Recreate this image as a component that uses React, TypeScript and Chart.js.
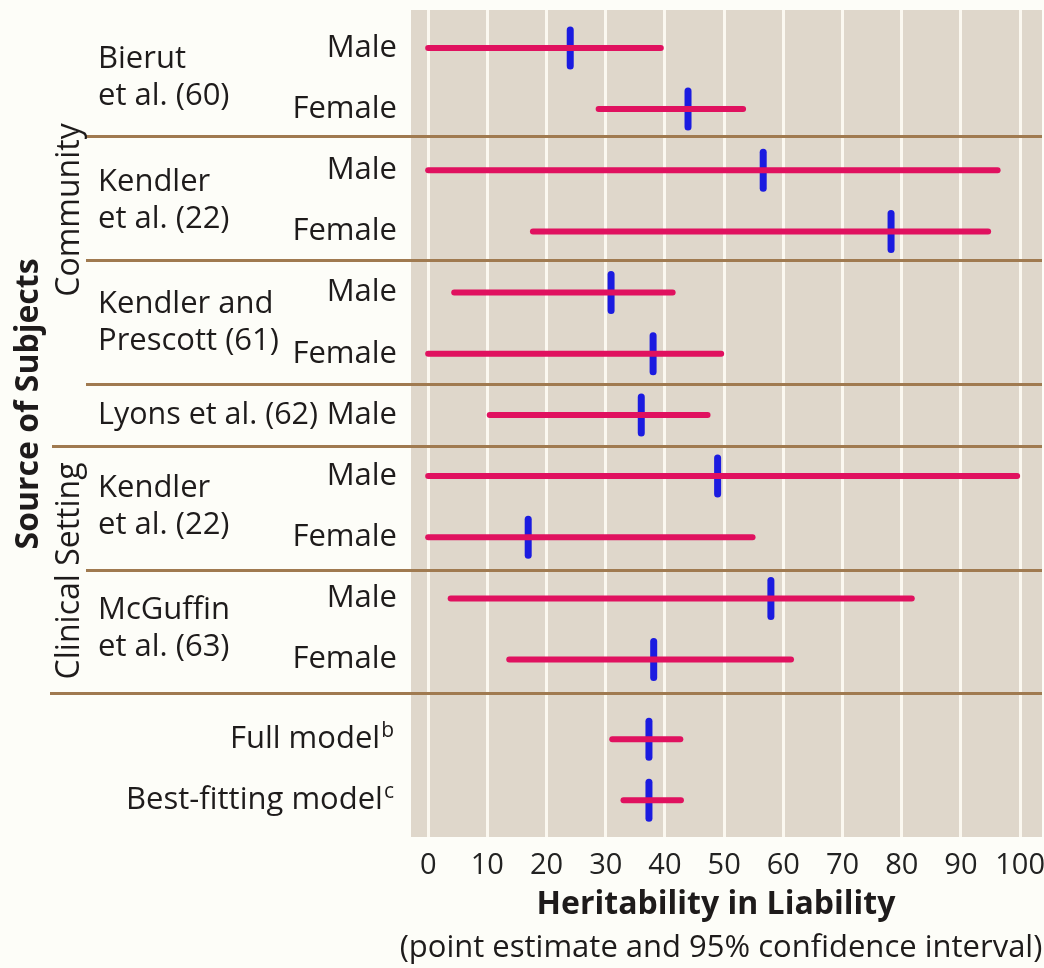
import React, { useEffect, useRef } from "react";
import { Chart, registerables } from "chart.js";

Chart.register(...registerables);

// ---- data ----
const sexLabels = ["Male", "Female", "Male", "Female", "Male", "Female", "Male", "Male", "Female", "Male", "Female"];
const modelLabels = ["Full model", "Best-fitting model"];
const modelSuperscripts = ["b", "c"];
const rowPositions = [0, 1, 2, 3, 4, 5, 6, 7, 8, 9, 10, 11.3, 12.3];
const lowerBounds = [0, 28.8, 0, 17.7, 4.4, 0, 10.4, 0, 0, 3.8, 13.7, 31.1, 33];
const upperBounds = [39.3, 53.2, 96.2, 94.6, 41.3, 49.5, 47.2, 99.5, 54.8, 81.7, 61.3, 42.6, 42.7];
const pointEstimates = [24, 43.9, 56.6, 78.2, 30.9, 38, 36, 48.9, 16.9, 57.9, 38.1, 37.3, 37.3];

const studyNames = [
  ["Bierut", "et al. (60)"],
  ["Kendler", "et al. (22)"],
  ["Kendler and", "Prescott (61)"],
  ["Lyons et al. (62)"],
  ["Kendler", "et al. (22)"],
  ["McGuffin", "et al. (63)"],
];
const studyFirstRow = [0, 2, 4, 6, 7, 9];
const studyLastRow = [1, 3, 5, 6, 8, 10];

const settingLabels = ["Community", "Clinical Setting"];
const settingCenters = [2.65, 8.55];
const outerLabel = "Source of Subjects";
const outerCenter = 5.82;

const separatorValues = [1.44, 3.46, 5.49, 6.5, 8.53, 10.54];
const separatorStartX = [86, 86, 86, 52, 86, 50];

const tickValues = [0, 10, 20, 30, 40, 50, 60, 70, 80, 90, 100];
const xTitle = "Heritability in Liability";
const xSubtitle = "(point estimate and 95% confidence interval)";

// ---- style ----
const FONT = "'Open Sans', 'DejaVu Sans', sans-serif";
const TEXT = "#1e1b1b";
const MAGENTA = "#e0115f";
const BLUE = "#1b1be0";
const BROWN = "#a07a50";
const LABEL_SIZE = 31;

const decorPlugin = {
  id: "decor",
  beforeDraw(chart: any) {
    const { ctx, chartArea: a, width, height } = chart;
    ctx.save();
    ctx.fillStyle = "#fdfdf8";
    ctx.fillRect(0, 0, width, height);
    ctx.fillStyle = "#dfd7cb";
    ctx.fillRect(a.left, a.top, a.right - a.left, a.bottom - a.top);
    ctx.restore();
  },
  beforeDatasetsDraw(chart: any) {
    const { ctx, chartArea: a } = chart;
    const ys = chart.scales.y;
    ctx.save();
    ctx.strokeStyle = BROWN;
    ctx.lineWidth = 3;
    separatorValues.forEach((v, i) => {
      const y = Math.round(ys.getPixelForValue(v)) + 0.5;
      ctx.beginPath();
      ctx.moveTo(separatorStartX[i], y);
      ctx.lineTo(a.right, y);
      ctx.stroke();
    });
    ctx.restore();
    // rounded ends for the point-estimate ticks
    ctx.lineCap = "round";
  },
  afterDatasetsDraw(chart: any) {
    chart.ctx.lineCap = "butt";
  },
  afterDraw(chart: any) {
    const { ctx } = chart;
    const ys = chart.scales.y;
    ctx.save();
    ctx.fillStyle = TEXT;
    ctx.textBaseline = "middle";
    // sex labels
    ctx.font = `${LABEL_SIZE}px ${FONT}`;
    ctx.textAlign = "right";
    sexLabels.forEach((s, i) => {
      ctx.fillText(s, 397, ys.getPixelForValue(rowPositions[i]));
    });
    // study labels
    ctx.textAlign = "left";
    studyNames.forEach((lines, i) => {
      const yTop = ys.getPixelForValue(rowPositions[studyFirstRow[i]]);
      const yBot = ys.getPixelForValue(rowPositions[studyLastRow[i]]);
      const mid = (yTop + yBot) / 2;
      if (lines.length === 1) {
        ctx.fillText(lines[0], 98, mid, 220);
      } else {
        ctx.fillText(lines[0], 98, mid - 19);
        ctx.fillText(lines[1], 98, mid + 18);
      }
    });
    // model labels with superscripts
    modelLabels.forEach((m, i) => {
      const y = ys.getPixelForValue(rowPositions[sexLabels.length + i]);
      ctx.font = `21px ${FONT}`;
      ctx.textAlign = "right";
      ctx.fillText(modelSuperscripts[i], 394, y - 8);
      const supW = ctx.measureText(modelSuperscripts[i]).width;
      ctx.font = `${LABEL_SIZE}px ${FONT}`;
      ctx.fillText(m, 394 - supW - 1, y);
    });
    // rotated group labels
    const drawRot = (text: string, x: number, y: number, bold: boolean) => {
      ctx.save();
      ctx.translate(x, y);
      ctx.rotate(-Math.PI / 2);
      ctx.textAlign = "center";
      ctx.font = `${bold ? "bold " : ""}32px ${FONT}`;
      ctx.fillText(text, 0, 0);
      ctx.restore();
    };
    settingLabels.forEach((s, i) => drawRot(s, 70, ys.getPixelForValue(settingCenters[i]), false));
    drawRot(outerLabel, 29, ys.getPixelForValue(outerCenter), true);
    // x-axis titles
    ctx.textAlign = "center";
    ctx.font = `bold 32px ${FONT}`;
    ctx.fillText(xTitle, 716, 905);
    ctx.font = `31px ${FONT}`;
    ctx.fillText(xSubtitle, 721, 948);
    ctx.restore();
  },
};

export default function App() {
  const ref = useRef<HTMLCanvasElement>(null);
  useEffect(() => {
    if (!ref.current) return;
    const ciSets = rowPositions.map((y, i) => ({
      type: "line" as const,
      data: [
        { x: lowerBounds[i], y },
        { x: upperBounds[i], y },
      ],
      borderColor: MAGENTA,
      borderWidth: 6,
      borderCapStyle: "round" as const,
      pointRadius: 0,
      showLine: true,
      fill: false,
    }));
    const pointSet = {
      type: "scatter" as const,
      data: rowPositions.map((y, i) => ({ x: pointEstimates[i], y })),
      pointStyle: "line" as const,
      rotation: 90,
      pointRadius: 18,
      borderWidth: 7,
      borderColor: BLUE,
      backgroundColor: BLUE,
      showLine: false,
    };
    const chart = new Chart(ref.current, {
      type: "scatter",
      data: { datasets: [...ciSets, pointSet] as any },
      options: {
        animation: false,
        responsive: false,
        events: [],
        layout: { autoPadding: false, padding: { left: 411, right: 2, top: 10, bottom: 0 } },
        plugins: { legend: { display: false }, tooltip: { enabled: false } },
        scales: {
          x: {
            type: "linear",
            min: -2.9,
            max: 103.7,
            afterBuildTicks: (s: any) => {
              s.ticks = tickValues.map((v) => ({ value: v }));
            },
            afterFit: (s: any) => {
              s.height = 131;
              s.paddingLeft = 0;
              s.paddingRight = 0;
            },
            grid: { color: "#fbf8f0", lineWidth: 3, drawTicks: false },
            border: { display: false },
            ticks: {
              padding: 11,
              color: "#222",
              font: { family: FONT, size: 29 },
              maxRotation: 0,
              autoSkip: false,
            },
          },
          y: {
            type: "linear",
            reverse: true,
            min: -0.62,
            max: 12.9,
            display: false,
          },
        },
      },
      plugins: [decorPlugin],
    });
    return () => chart.destroy();
  }, []);
  return (
    <div style={{ position: "absolute", left: 0, top: 0, width: 1044, height: 968 }}>
      <canvas ref={ref} width={1044} height={968} style={{ display: "block" }} />
    </div>
  );
}
